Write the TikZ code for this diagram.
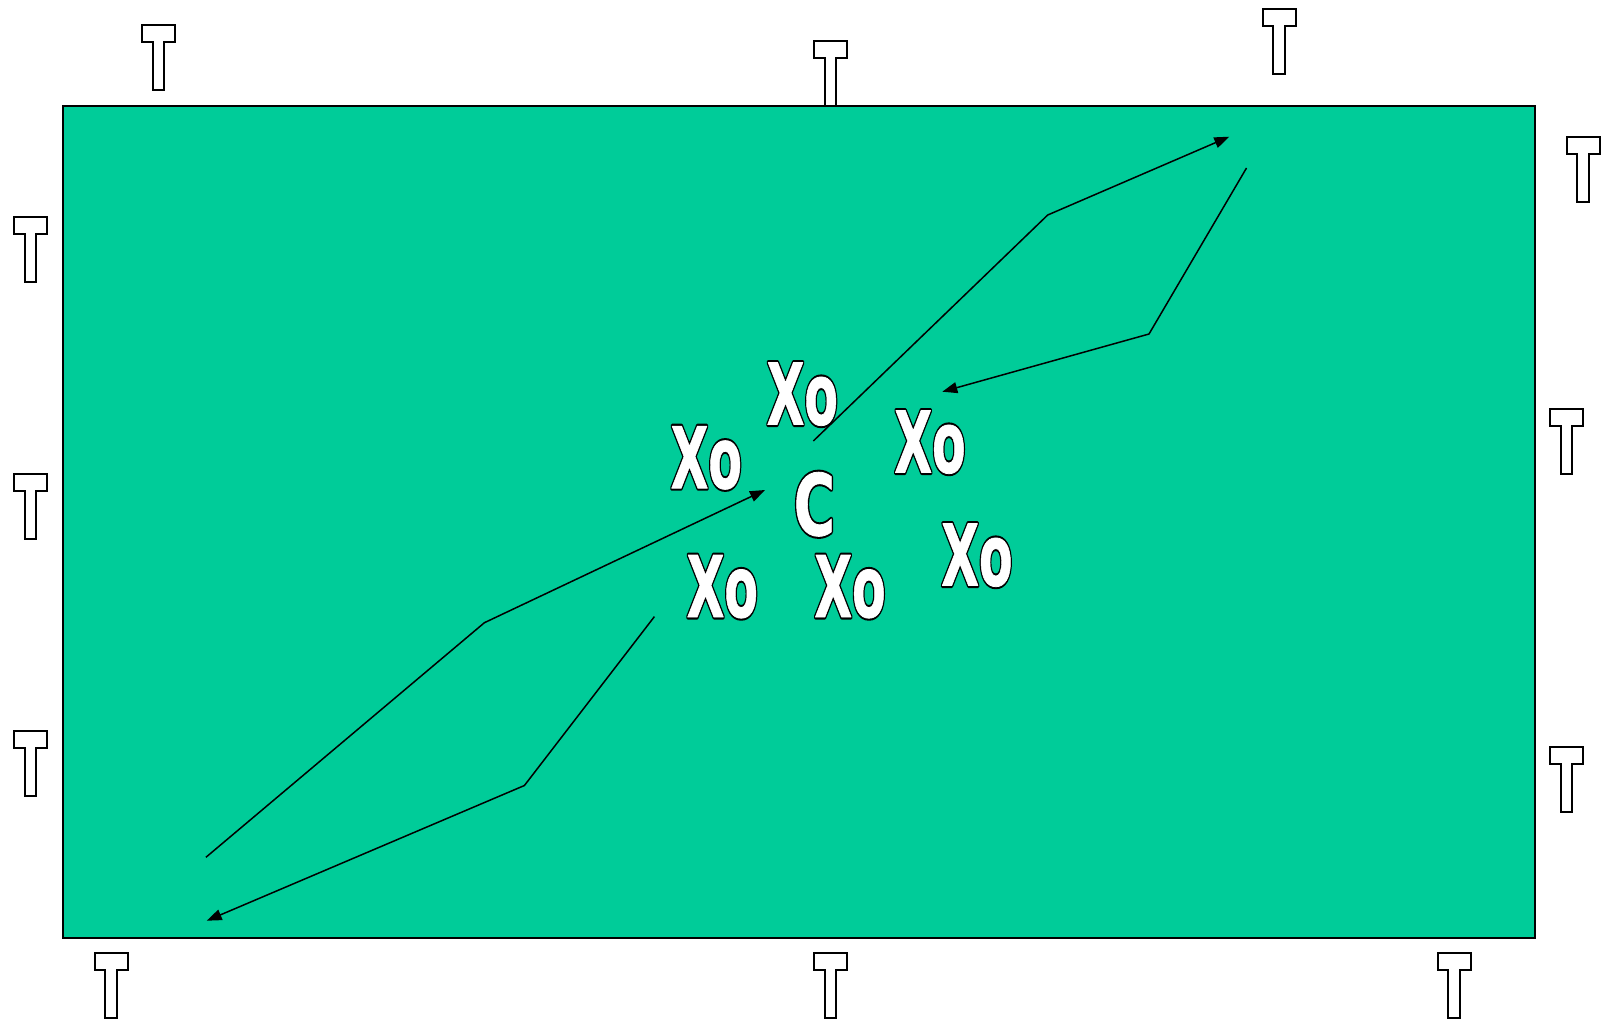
\documentclass[tikz,border=0pt]{standalone}
\usepackage{fontspec}
\setmainfont{Liberation Sans}
\newfontfamily\lblfont{DejaVu Sans}
\usepackage{graphicx}
\usetikzlibrary{arrows.meta,calc}
\definecolor{field}{RGB}{0,204,153}
% outlined white text: black stroked underlay, white filled copy on top
\newcommand\otxt[2][0.575]{%
  \scalebox{#1}[1]{%
    \rlap{\special{pdf:literal direct 0 G 1 j 5 w 1 Tr}#2\special{pdf:literal direct 0 Tr}}%
    {\color{white}\special{pdf:literal direct 1 G 1 j 0.8 w 2 Tr}#2\special{pdf:literal direct 0 Tr}}}}
\newcommand\tmark[3]{% name, center x, top y
  \coordinate (#1) at (#2,#3);
  \draw[tshape] ($(#1)+(-16.5,1)$) -- ($(#1)+(16.5,1)$) -- ($(#1)+(16.5,18)$) -- ($(#1)+(5.6,18)$)
    -- ($(#1)+(5.6,66)$) -- ($(#1)+(-5.6,66)$) -- ($(#1)+(-5.6,18)$) -- ($(#1)+(-16.5,18)$) -- cycle;}
\begin{document}
\begin{tikzpicture}[x=1pt,y=-1pt,
  tshape/.style={draw=black,fill=white,line width=2pt,line join=miter},
  lbl/.style={inner sep=0pt,anchor=base west,font=\lblfont\fontsize{85}{90}\selectfont\bfseries},
  mv/.style={draw=black,line width=1.5pt,-{Triangle[length=15pt,width=11pt]}}]
\useasboundingbox (0,0) rectangle (1606,1021);
\fill[white] (0,0) rectangle (1606,1021);
\node[draw=black,fill=field,line width=2pt,inner sep=0pt,minimum width=1471.7pt,minimum height=831.7pt,anchor=north west] (field) at (62,105) {};
% T marks
\tmark{t1}{158.5}{24}
\tmark{t2}{830.8}{40.3}
\tmark{t3}{1279}{8}
\tmark{t4}{1583}{136}
\tmark{t5}{30.8}{216}
\tmark{t6}{30.8}{473}
\tmark{t7}{30.8}{730}
\tmark{t8}{1566.5}{408.3}
\tmark{t9}{1566.5}{746}
\tmark{t10}{111}{952.3}
\tmark{t11}{830.8}{952.3}
\tmark{t12}{1454}{952.3}
% labels
\node[lbl] (x1) at (766.5,424.5) {\otxt{Xo}};
\node[lbl] (x2) at (670.5,488.2) {\otxt{Xo}};
\node[lbl] (x3) at (894.2,472.5) {\otxt{Xo}};
\node[lbl] (x4) at (941.1,585.5) {\otxt{Xo}};
\node[lbl] (x5) at (686.5,617) {\otxt{Xo}};
\node[lbl] (x6) at (814.2,617) {\otxt{Xo}};
\node[lbl] (c) at (793.6,535.2) {\otxt[0.66]{C}};
% connector points
\coordinate (a0) at (813.3,441);
\coordinate (a1) at (1047.7,215);
\coordinate (a2) at (1229.3,136.7);
\coordinate (b0) at (1246.5,168);
\coordinate (b1) at (1149,334);
\coordinate (b2) at (942.3,391.7);
\coordinate (c0) at (205.9,857.3);
\coordinate (c1) at (484.4,622.7);
\coordinate (c2) at (765,490);
\coordinate (d0) at (654.4,616.6);
\coordinate (d1) at (524.4,785.5);
\coordinate (d2) at (206.7,920.7);
\draw[mv] (a0) -- (a1) -- (a2);
\draw[mv] (b0) -- (b1) -- (b2);
\draw[mv] (c0) -- (c1) -- (c2);
\draw[mv] (d0) -- (d1) -- (d2);
\end{tikzpicture}
\end{document}
